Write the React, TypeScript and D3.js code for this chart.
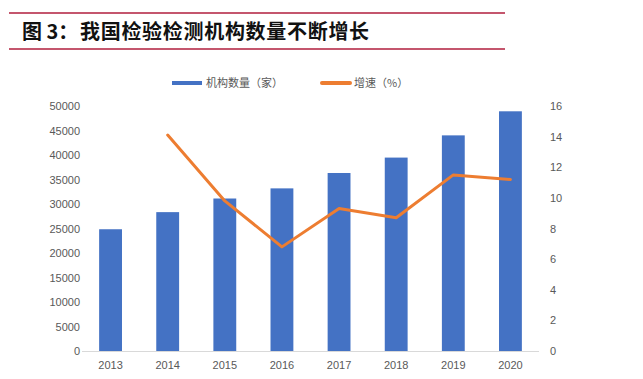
import React from "react";
import * as d3 from "d3";

const years = ["2013", "2014", "2015", "2016", "2017", "2018", "2019", "2020"];
const counts = [24847, 28340, 31122, 33189, 36327, 39472, 44007, 48919];
const growth: (number | null)[] = [null, 14.1, 9.8, 6.8, 9.3, 8.7, 11.5, 11.2];
const leftTicks = [0, 5000, 10000, 15000, 20000, 25000, 30000, 35000, 40000, 45000, 50000];
const rightTicks = [0, 2, 4, 6, 8, 10, 12, 14, 16];

const W = 643;
const H = 379;
const plotLeft = 82;
const plotRight = 539;
const plotTop = 106;
const plotBottom = 351;

const BLUE = "#4472C4";
const ORANGE = "#ED7D31";
const GRAY = "#595959";
const RED = "#B01E3C";
const FONT = "'Liberation Sans', Arial, sans-serif";
const CJK = "'Noto Sans CJK SC', sans-serif";

export default function App() {
  const x = d3.scaleBand<string>().domain(years).range([plotLeft, plotRight]).paddingInner(0.6).paddingOuter(0.3);
  const xc = (y: string) => (x(y) ?? 0) + x.bandwidth() / 2;
  const yL = d3.scaleLinear().domain([0, 50000]).range([plotBottom, plotTop]);
  const yR = d3.scaleLinear().domain([0, 16]).range([plotBottom, plotTop]);

  const line = d3
    .line<number | null>()
    .defined((d) => d != null)
    .x((_, i) => xc(years[i]))
    .y((d) => yR(d as number));

  return (
    <svg width={W} height={H} style={{ position: "absolute", left: 0, top: 0, background: "#fff" }}>
      <line x1={9} x2={505} y1={13} y2={13} stroke={RED} strokeWidth={1.5} />
      <line x1={9} x2={505} y1={49} y2={49} stroke={RED} strokeWidth={1.5} />
      <text x={22} y={39} fontFamily={CJK} fontWeight={700} fontSize={20} fill="#111">
        图 3：
      </text>
      <text x={80} y={39} fontFamily={CJK} fontWeight={700} fontSize={20} letterSpacing={0.7} fill="#111">
        我国检验检测机构数量不断增长
      </text>

      {/* legend */}
      <rect x={172} y={81} width={30} height={4} fill={BLUE} />
      <text x={206} y={87} fontFamily={CJK} fontSize={11} fill={GRAY}>
        机构数量（家）
      </text>
      <rect x={320} y={81} width={32} height={4} rx={2} fill={ORANGE} />
      <text x={354} y={87} fontFamily={CJK} fontSize={11} fill={GRAY}>
        增速（%）
      </text>

      {/* left axis labels */}
      {leftTicks.map((t) => (
        <text key={"l" + t} x={80} y={yL(t) + 4} textAnchor="end" fontFamily={FONT} fontSize={11} fill={GRAY}>
          {t}
        </text>
      ))}
      {/* right axis labels */}
      {rightTicks.map((t) => (
        <text key={"r" + t} x={550} y={yR(t) + 4} textAnchor="start" fontFamily={FONT} fontSize={11} fill={GRAY}>
          {t}
        </text>
      ))}

      {/* bars */}
      {counts.map((c, i) => (
        <rect
          key={"b" + i}
          x={x(years[i])}
          y={yL(c)}
          width={x.bandwidth()}
          height={plotBottom - yL(c)}
          fill={BLUE}
        />
      ))}

      {/* x axis */}
      <line x1={plotLeft} x2={plotRight} y1={plotBottom + 0.5} y2={plotBottom + 0.5} stroke="#D9D9D9" strokeWidth={1} />
      {years.map((y) => (
        <text key={"x" + y} x={xc(y)} y={369} textAnchor="middle" fontFamily={FONT} fontSize={11} fill={GRAY}>
          {y}
        </text>
      ))}

      {/* growth line */}
      <path d={line(growth) ?? ""} fill="none" stroke={ORANGE} strokeWidth={3} strokeLinejoin="round" strokeLinecap="round" />
    </svg>
  );
}
